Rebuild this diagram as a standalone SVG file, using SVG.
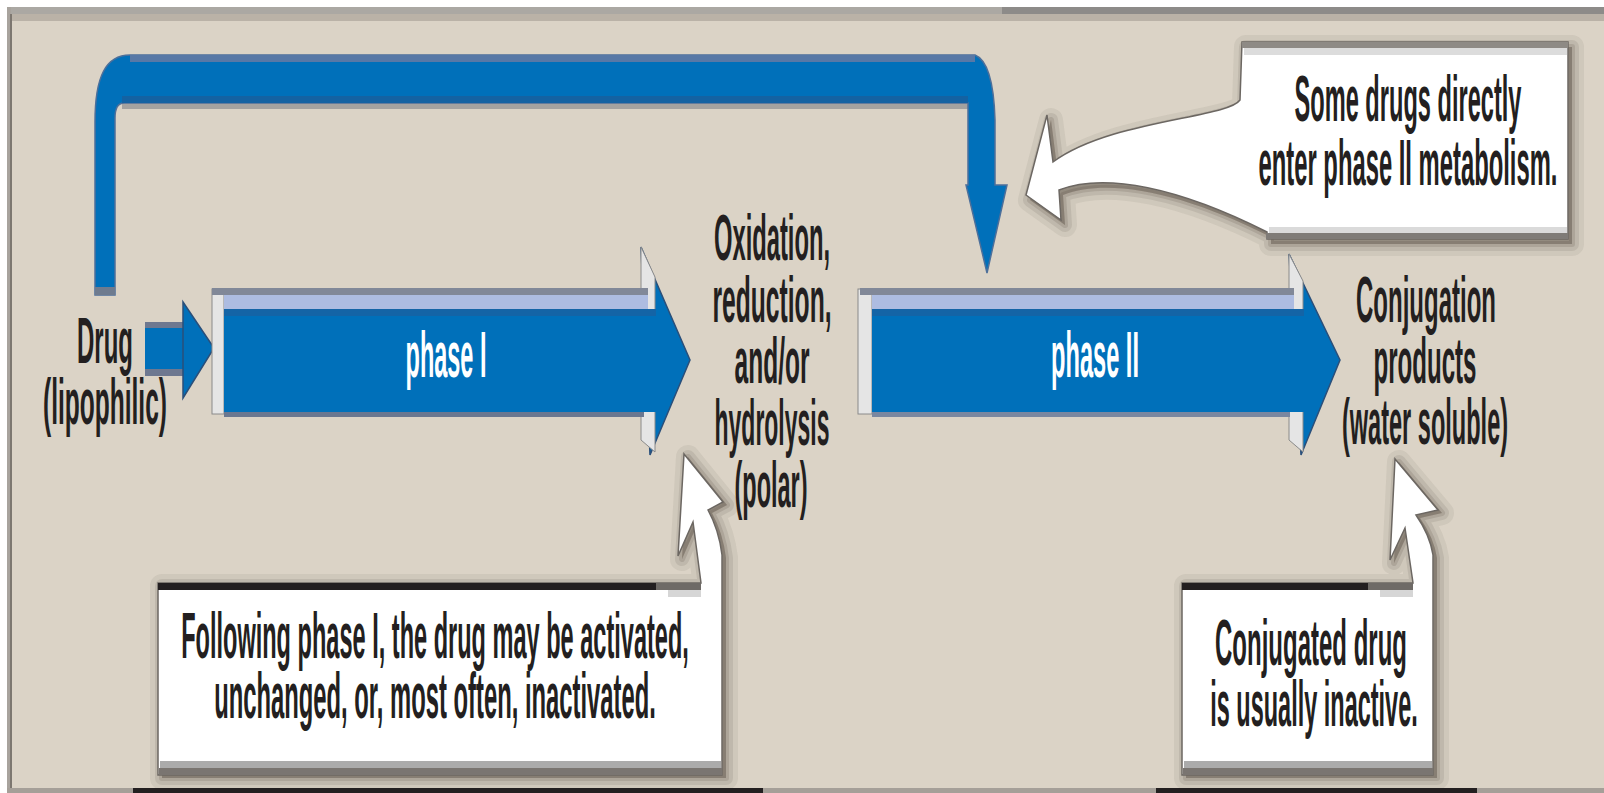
<svg xmlns="http://www.w3.org/2000/svg" xmlns:xlink="http://www.w3.org/1999/xlink" width="1604" height="793" viewBox="0 0 1604 793">
<style>
.t{font-family:"Liberation Sans",Arial,sans-serif;font-size:64px;font-weight:bold;fill:#231F20;text-anchor:middle}
.w{fill:#FFFFFF}
.blue{fill:#0070BA}
.hd{fill:#0070BA;stroke:#2A4F7A;stroke-width:1.5;stroke-linejoin:miter}
.face{fill:#E5E5E5;stroke:#8A8A8A;stroke-width:1}
.co{fill:#FFFFFF;stroke:#6C6762;stroke-width:1.5;stroke-linejoin:miter}
.s1{fill:#3E352B;fill-opacity:0.1;stroke:#3E352B;stroke-opacity:0.07;stroke-width:24;stroke-linejoin:round}
.s2{fill:#3E352B;fill-opacity:0.12;stroke:#3E352B;stroke-opacity:0.1;stroke-width:14;stroke-linejoin:round}
.s3{fill:#3E352B;fill-opacity:0.15;stroke:#3E352B;stroke-opacity:0.14;stroke-width:6;stroke-linejoin:round}
</style>
<defs>
<path id="p1" d="M 1242 42 L 1568 42 L 1568 239 L 1267 239 L 1267 232 C 1180 188 1105 172 1059 190 L 1061 220 L 1026 195 L 1047 115 L 1053 162 C 1110 120 1228 118 1240 100 Z"/>
<path id="p2" d="M 158 583 L 701 583 L 693 522 L 678 556 L 684 454 L 723 502 L 708 510 Q 719 530 722 555 L 722 775 L 158 775 Z"/>
<path id="p3" d="M 1182 583 L 1413 583 L 1405 528 L 1390 560 L 1395 459 L 1438 510 L 1416 515 Q 1430 535 1433 555 L 1433 775 L 1182 775 Z"/>
</defs>
<g id="frame">
<rect x="0" y="0" width="1604" height="793" fill="#FFFFFF"/>
<rect x="7" y="7" width="1597" height="786" fill="#DBD3C6"/>
<rect x="7" y="7" width="1597" height="7" fill="#ABA8A3"/>
<rect x="1002" y="7" width="602" height="7" fill="#8D8B89"/>
<rect x="10" y="14" width="1594" height="7" fill="#BAB2A7"/>
<rect x="7" y="7" width="4" height="786" fill="#A8A39D"/>
<rect x="10" y="14" width="2" height="779" fill="#7D7770"/>
</g>
<g id="shadows">
<use xlink:href="#p1" href="#p1" class="s1" transform="translate(4 5)"/>
<use xlink:href="#p1" href="#p1" class="s2" transform="translate(4 5)"/>
<use xlink:href="#p1" href="#p1" class="s3" transform="translate(4 5)"/>
<use xlink:href="#p2" href="#p2" class="s1" transform="translate(4 3)"/>
<use xlink:href="#p2" href="#p2" class="s2" transform="translate(4 3)"/>
<use xlink:href="#p2" href="#p2" class="s3" transform="translate(4 3)"/>
<use xlink:href="#p3" href="#p3" class="s1" transform="translate(4 3)"/>
<use xlink:href="#p3" href="#p3" class="s2" transform="translate(4 3)"/>
<use xlink:href="#p3" href="#p3" class="s3" transform="translate(4 3)"/>
</g>
<g id="frame-bottom">
<rect x="7" y="788" width="1597" height="5" fill="#A59F98"/>
<rect x="133" y="788" width="630" height="5" fill="#231F20"/>
<rect x="1156" y="788" width="321" height="5" fill="#231F20"/>
</g>
<g id="connectors">
<g id="bypass-arrow">
<rect x="122" y="103" width="846" height="6" fill="#A4A2A0"/>
<path class="blue" stroke="#4D6F9A" stroke-width="1.5" d="M 95 295 L 95 122 C 95 76 106 55 130 55 L 975 55 C 988 60 994 85 995 120 L 995 185 L 1007 185 L 987 273 L 966 185 L 968 185 L 968 103 L 124 103 Q 115 103 115 118 L 115 295 Z"/>
<rect x="130" y="55" width="845" height="7" fill="#5878A6"/>
<rect x="122" y="96" width="846" height="7" fill="#1462A2"/>
<rect x="95" y="287" width="20" height="8" fill="#6E7B8F"/>
</g>
<g id="drug-arrow">
<rect x="145" y="322" width="39" height="54" fill="#6E7890"/>
<rect class="blue" x="145" y="328" width="39" height="41"/>
<polygon class="hd" points="183,302 214,348 183,398"/>
</g>
</g>
<g id="drug">
<text class="t" transform="translate(105 363) scale(0.375 1)">Drug</text>
<text class="t" transform="translate(105 424) scale(0.383 1)">(lipophilic)</text>
</g>
<g id="phase1">
<polygon class="hd" points="641,247 690,360 650,455"/>
<polygon class="face" points="641,247 655,277 655,452 641,440"/>
<rect class="face" x="212" y="289" width="12" height="125"/>
<rect x="212" y="288" width="436" height="7" fill="#818898"/>
<rect x="224" y="295" width="424" height="14" fill="#ADBCE1"/>
<rect class="blue" x="224" y="309" width="432" height="103"/>
<rect x="224" y="309" width="432" height="7" fill="#1464A6"/>
<rect x="224" y="412" width="420" height="5" fill="#6A7790"/>
<text class="t w" transform="translate(446 377) scale(0.367 1)">phase I</text>
</g>
<g id="products1">
<text class="t" transform="translate(772 260) scale(0.371 1)">Oxidation,</text>
<text class="t" transform="translate(772 322) scale(0.385 1)">reduction,</text>
<text class="t" transform="translate(772 383) scale(0.383 1)">and/or</text>
<text class="t" transform="translate(772 445) scale(0.359 1)">hydrolysis</text>
<text class="t" transform="translate(771 507) scale(0.367 1)">(polar)</text>
</g>
<g id="phase2">
<polygon class="hd" points="1289,254 1340,360 1301,455"/>
<polygon class="face" points="1289,254 1303,281 1303,452 1289,440"/>
<rect class="face" x="858" y="289" width="14" height="125"/>
<rect x="860" y="288" width="434" height="7" fill="#818898"/>
<rect x="872" y="295" width="422" height="14" fill="#ADBCE1"/>
<rect class="blue" x="872" y="309" width="432" height="103"/>
<rect x="872" y="309" width="432" height="7" fill="#1464A6"/>
<rect x="872" y="412" width="418" height="5" fill="#7A87A0"/>
<text class="t w" transform="translate(1095 377) scale(0.369 1)">phase II</text>
</g>
<g id="products2">
<text class="t" transform="translate(1426 322) scale(0.375 1)">Conjugation</text>
<text class="t" transform="translate(1425 383) scale(0.376 1)">products</text>
<text class="t" transform="translate(1425 444) scale(0.368 1)">(water soluble)</text>
</g>
<g id="callout1">
<use xlink:href="#p1" href="#p1" class="co"/>
<rect x="1242" y="42" width="326" height="6" fill="#8E8A85"/>
<rect x="1244" y="48" width="323" height="7" fill="#DCDCDC"/>
<rect x="1269" y="227" width="298" height="6" fill="#DADADA"/>
<rect x="1266" y="233" width="302" height="6" fill="#7F7B77"/>
<text class="t" transform="translate(1408 121) scale(0.369 1)">Some drugs directly</text>
<text class="t" transform="translate(1408 185) scale(0.372 1)">enter phase II metabolism.</text>
</g>
<g id="callout2">
<use xlink:href="#p2" href="#p2" class="co"/>
<rect x="158" y="583" width="498" height="7" fill="#231F20"/>
<rect x="656" y="583" width="45" height="7" fill="#6E6A66"/>
<rect x="668" y="590" width="33" height="7" fill="#D6D6D6"/>
<rect x="160" y="761" width="561" height="7" fill="#ABABAB"/>
<rect x="159" y="768" width="563" height="7" fill="#7A7571"/>
<text class="t" transform="translate(435 658) scale(0.368 1)">Following phase I, the drug may be activated,</text>
<text class="t" transform="translate(435 718) scale(0.372 1)">unchanged, or, most often, inactivated.</text>
</g>
<g id="callout3">
<use xlink:href="#p3" href="#p3" class="co"/>
<rect x="1182" y="583" width="186" height="7" fill="#231F20"/>
<rect x="1368" y="583" width="45" height="7" fill="#6E6A66"/>
<rect x="1380" y="590" width="33" height="7" fill="#D6D6D6"/>
<rect x="1184" y="761" width="248" height="7" fill="#ABABAB"/>
<rect x="1183" y="768" width="250" height="7" fill="#7A7571"/>
<text class="t" transform="translate(1311 665) scale(0.375 1)">Conjugated drug</text>
<text class="t" transform="translate(1314 726) scale(0.367 1)">is usually inactive.</text>
</g>
</svg>
